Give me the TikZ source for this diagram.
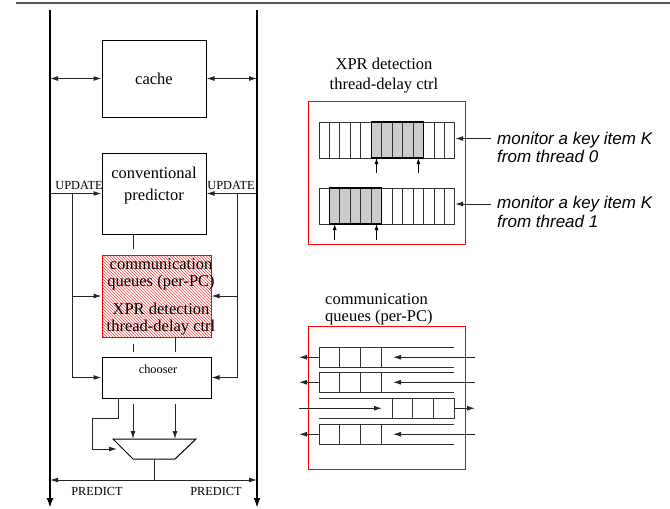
\documentclass[tikz,border=0pt]{standalone}
\usepackage{fontspec}
\setmainfont{Liberation Serif}
\setsansfont{Liberation Sans}
\usetikzlibrary{arrows.meta,patterns,positioning}

\tikzset{
  blk/.style={draw, line width=1pt, inner sep=0pt},
  wire/.style={black!85, line width=1pt},
  arr/.style={-{Latex[length=8pt,width=5pt]}},
  dbl/.style={{Latex[length=8pt,width=5pt]}-{Latex[length=8pt,width=5pt]}},
  ptr/.style={black, line width=0.9pt, -{Latex[length=6pt,width=4pt]}},
  bus/.style={line width=2.2pt, -{Latex[length=10pt,width=7pt]}},
  lbltxt/.style={font=\fontsize{16.5}{17}\selectfont, align=center, inner sep=0pt},
  smalltxt/.style={font=\fontsize{12.3}{14}\selectfont, inner sep=0pt},
  note/.style={font=\fontsize{17}{18.5}\selectfont\sffamily\itshape,
    align=left, inner sep=0pt, anchor=west},
  redframe/.style={draw=red, line width=1pt, inner sep=0pt},
  cell/.style={draw=black!80, line width=1pt},
}

\begin{document}
\begin{tikzpicture}[x=1pt, y=-1pt]
  \useasboundingbox (0,0) rectangle (670,509);

  \newcommand\cellw{10.46}
  \newcommand\qcw{20.8}

  \draw[black!65, line width=1.6pt] (16,3) -- (670,3); % top rule

  %% buses
  \coordinate (lbus) at (50,10);
  \coordinate (rbus) at (257,10);
  \draw[bus] (lbus) -- ++(0,498);
  \draw[bus] (rbus) -- ++(0,498);

  %% predictor blocks
  \node[blk, lbltxt, minimum width=104, minimum height=77] (cache) at (154,78.5) {cache};
  \node[blk, minimum width=104, minimum height=81] (pred) at (154,193.5) {};
  \node[lbltxt, font=\fontsize{16.5}{22}\selectfont] (predtxt) at (154,186) {conventional\\predictor};
  \node[blk, draw=red, pattern=north west lines, pattern color=red!75,
        minimum width=109, minimum height=82] (cq) at (156.5,296) {};
  \node[lbltxt] (cqtxt) at (161,296.5) {communication\\queues (per-PC)\\[11pt]XPR detection\\thread-delay ctrl};
  \node[blk, minimum width=109, minimum height=41] (chooser) at (156.5,377.5) {};
  \node[smalltxt] (choosertxt) at (158,369) {chooser};

  %% mux
  \coordinate (muxtl) at (113,439);
  \coordinate (muxtr) at (196,439);
  \coordinate (muxbr) at (175,459);
  \coordinate (muxbl) at (133,459);
  \coordinate (muxw) at (123,449);
  \coordinate (muxs) at (154,459);
  \draw[line width=1pt] (muxtl) -- (muxtr) -- (muxbr) -- (muxbl) -- cycle;

  %% cache <-> buses
  \draw[wire, dbl] (cache.west -| lbus) -- (cache.west);
  \draw[wire, dbl] (cache.east) -- (cache.east -| rbus);

  %% UPDATE
  \coordinate (lupd) at (50,193.5);
  \coordinate (rupd) at (257,193.5);
  \coordinate (ltap) at (72,193.5);
  \coordinate (rtap) at (237,193.5);
  \draw[wire, arr] (lupd) -- (pred.west);
  \draw[wire, arr] (rupd) -- (pred.east);
  \node[smalltxt] (lupdtxt) at (79,185.5) {UPDATE};
  \node[smalltxt] (rupdtxt) at (231,185.5) {UPDATE};
  \draw[wire, arr] (ltap) |- (chooser.west);
  \draw[wire, arr] (rtap) |- (chooser.east);
  \draw[wire, arr] (ltap |- cq.west) -- (cq.west);
  \draw[wire, arr] (rtap |- cq.east) -- (cq.east);

  %% links between blocks
  \coordinate (colA) at (133,0);
  \coordinate (colB) at (175,0);
  \coordinate (colC) at (118,0);
  \draw[wire, shorten >=6pt] (pred.south -| colA) -- (cq.north -| colA);
  \draw[wire, shorten <=6pt, shorten >=5pt] (cq.south -| colA) -- (chooser.north -| colA);
  \draw[wire, shorten >=5pt] (cq.south -| colB) -- (chooser.north -| colB);
  \draw[wire, arr, shorten <=5pt] (chooser.south -| colA) -- (muxtl -| colA);
  \draw[wire, arr, shorten <=5pt] (chooser.south -| colB) -- (muxtl -| colB);
  \coordinate (bend) at (92,418);
  \draw[wire, arr, shorten >=6pt] (chooser.south -| colC) |- (bend) |- (muxw);

  %% PREDICT
  \coordinate (pbus) at (154,480);
  \draw[wire] (muxs) -- (muxs |- pbus);
  \draw[wire, dbl] (pbus -| lbus) -- (pbus -| rbus);
  \node[smalltxt] (lpredtxt) at (97,491.5) {PREDICT};
  \node[smalltxt] (rpredtxt) at (216,491.5) {PREDICT};

  %% XPR detection panel
  \node[lbltxt, font=\fontsize{16.5}{20}\selectfont] (xprttl) at (384,76) {XPR detection\\thread-delay ctrl};
  \node[minimum width=156, minimum height=142, inner sep=0pt] (xprbox) at (387,173) {};
  \draw[redframe] (xprbox.north west) rectangle (xprbox.south east);
  \node[minimum width=136, minimum height=36, inner sep=0pt] (row0) at (387,140) {};
  \node[minimum width=136, minimum height=36, inner sep=0pt] (row1) at (387,206) {};
  \foreach \i in {0,...,12} {
    \draw[cell] ({319+\i*\cellw},122) rectangle ++(\cellw,36);
    \draw[cell] ({319+\i*\cellw},188) rectangle ++(\cellw,36);
  }
  \foreach \i in {5,...,9} \draw[cell, fill=black!20] ({319+\i*\cellw},122) rectangle ++(\cellw,36);
  \foreach \i in {1,...,5} \draw[cell, fill=black!20] ({319+\i*\cellw},188) rectangle ++(\cellw,36);
  \draw[line width=1.4pt] ({319+5*\cellw},122) rectangle ({319+10*\cellw},158);
  \draw[line width=1.4pt] ({319+1*\cellw},188) rectangle ({319+6*\cellw},224);
  \foreach \i in {5,9} \draw[ptr] ({319+(\i+0.5)*\cellw},173) -- ++(0,-15);
  \foreach \i in {1,5} \draw[ptr] ({319+(\i+0.5)*\cellw},240) -- ++(0,-16);

  %% communication queues panel
  \node[lbltxt, align=left, anchor=west] (cqttl) at (325,309.5) {communication\\queues (per-PC)};
  \node[minimum width=156, minimum height=142, inner sep=0pt] (cqbox) at (387,398) {};
  \draw[redframe] (cqbox.north west) rectangle (cqbox.south east);
  \foreach \q in {347,372,424} {
    \draw[cell] (319,\q) rectangle ++(3*\qcw,20.5);
    \draw[cell] ({319+\qcw},\q) -- ++(0,20.5) ({319+2*\qcw},\q) -- ++(0,20.5);
    \draw[cell] ({319+3*\qcw},\q) -- (454,\q) ({319+3*\qcw},\q+20.5) -- (454,\q+20.5);
    \draw[wire, arr] (319,\q+10.25) -- (299,\q+10.25);
    \draw[wire, arr] (475,\q+10.25) -- (393,\q+10.25);
  }
  % reversed queue
  \draw[cell] (392,398) rectangle (454,418.5);
  \draw[cell] ({392+\qcw},398) -- ++(0,20.5) ({392+2*\qcw},398) -- ++(0,20.5);
  \draw[cell] (319,398) -- (392,398) (319,418.5) -- (392,418.5);
  \draw[wire, arr] (299,408.25) -- (382,408.25);
  \draw[wire, arr] (454,408.25) -- (475,408.25);

  %% monitor notes
  \node[note] (note0) at (497,147.5) {monitor a key item K\\from thread 0};
  \node[note] (note1) at (497,212) {monitor a key item K\\from thread 1};
  \coordinate (m0) at (491,138.5);
  \coordinate (m1) at (491,204);
  \draw[wire, arr] (m0) -- (m0 -| row0.east);
  \draw[wire, arr] (m1) -- (m1 -| row1.east);

\end{tikzpicture}
\end{document}
